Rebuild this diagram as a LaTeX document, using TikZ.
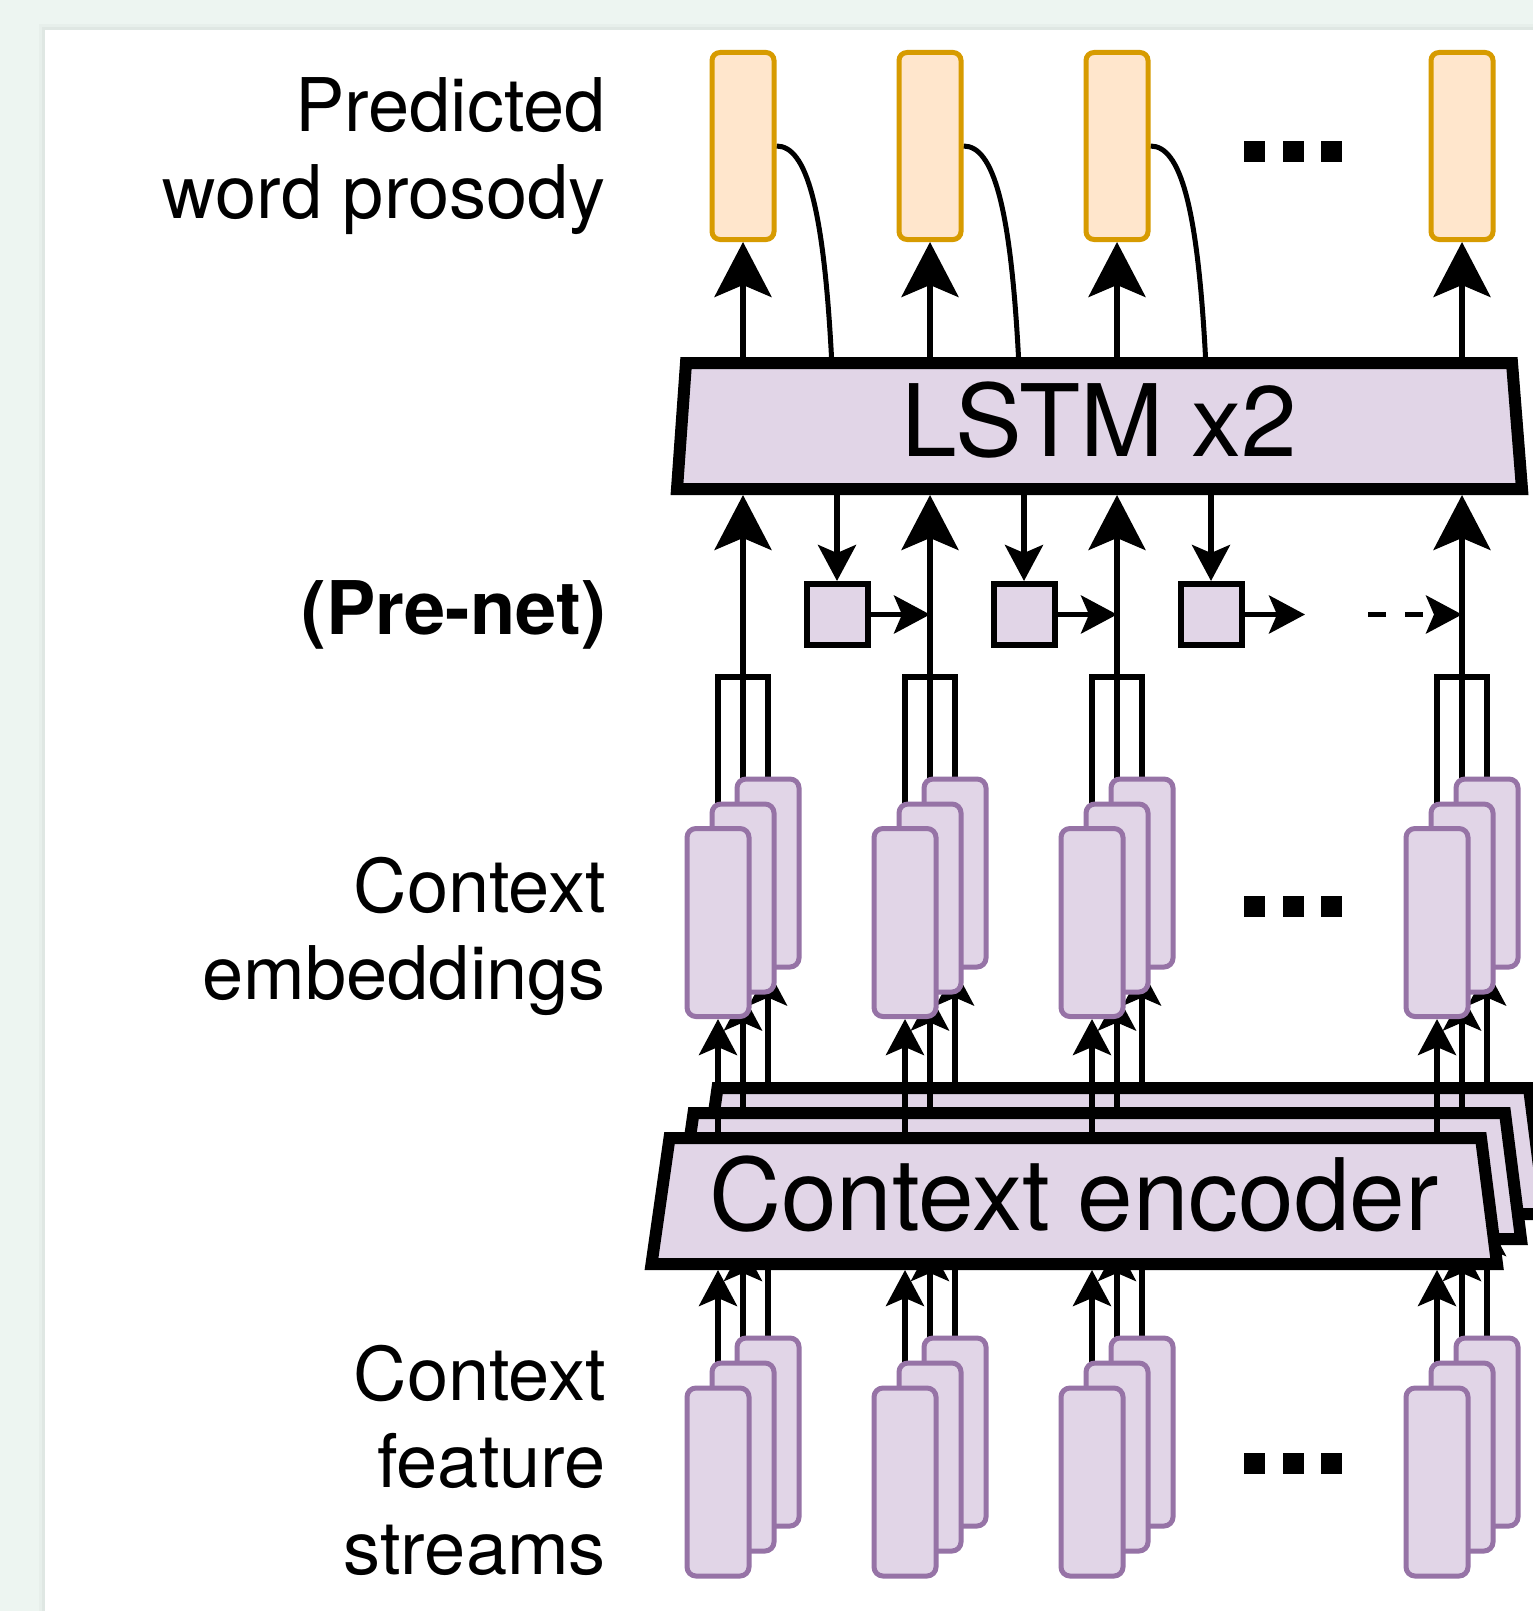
\documentclass[tikz,border=0pt]{standalone}
\usepackage{fontspec}
\setmainfont{TeX Gyre Heros}
\usetikzlibrary{arrows.meta,calc}
\definecolor{bgmint}{RGB}{237,245,241}
\definecolor{purfill}{HTML}{E1D5E7}
\definecolor{purline}{HTML}{9673A6}
\definecolor{orfill}{HTML}{FFE6CC}
\definecolor{orline}{HTML}{D79B00}
\pgfdeclarelayer{bglayer}
\pgfdeclarelayer{connlayer}
\pgfsetlayers{bglayer,connlayer,main}
\tikzset{
  outbox/.style={draw=orline, fill=orfill, line width=5pt, rounded corners=8pt, minimum width=62pt, minimum height=187pt, inner sep=0pt},
  vecbox/.style={draw=purline, fill=purfill, line width=5pt, rounded corners=9pt, minimum width=62pt, minimum height=188pt, inner sep=0pt},
  prebox/.style={draw=black, fill=purfill, line width=6pt, minimum width=61pt, minimum height=61pt, inner sep=0pt},
  trapline/.style={draw=black, fill=purfill, line width=12pt, line join=miter},
  layertext/.style={minimum width=830pt, minimum height=138pt, inner sep=0pt, outer sep=0pt, font=\fontsize{100}{110}\selectfont},
  dotbox/.style={fill=black, minimum size=21pt, inner sep=0pt},
  bigarrow/.style={line width=5.5pt, -{Stealth[length=55pt,width=57pt,inset=12pt]}},
  medarrow/.style={line width=5.5pt, -{Stealth[length=36pt,width=38pt,inset=8pt]}},
  plainline/.style={line width=5.5pt},
  sidelabel/.style={font=\fontsize{74}{87}\selectfont, align=right, anchor=base east, inner sep=0pt},
}
\begin{document}
\begin{tikzpicture}[x=1pt,y=-1pt]
\useasboundingbox (0,0) rectangle (1533,1611);
\begin{pgfonlayer}{bglayer}
  \fill[bgmint] (0,0) rectangle (1533,1611);
  \fill[black,opacity=0.025] (39,24) rectangle (1533,1611);
  \fill[black,opacity=0.03] (42,27) rectangle (1533,1611);
  \fill[white] (45,30) rectangle (1533,1611);
  % LSTM block
  \draw[trapline] (686,363) -- (1512,363) -- (1522,489) -- (677,489) -- cycle;
  \node[layertext, text height=72pt, text depth=12pt] (lstm) at (1099.5,426) {LSTM x2};
  % stacked context encoders (back layers)
  \foreach \n/\dx/\dy in {3/48/-50,2/24/-25}{
    \draw[trapline, shift={(\dx,\dy)}] (669.5,1138) -- (1481,1138) -- (1497,1264) -- (651.5,1264) -- cycle;
    \node[layertext] (enc\n) at (1074+\dx,1201+\dy) {};
  }
\end{pgfonlayer}

% front context encoder
\draw[trapline] (669.5,1138) -- (1481,1138) -- (1497,1264) -- (651.5,1264) -- cycle;
\node[layertext, text height=72pt, text depth=14pt] (enc1) at (1074,1201) {Context encoder};

% output, embedding and feature boxes
\foreach \i/\c in {1/743,2/930,3/1117,4/1462}{
  \node[outbox] (o\i) at (\c,146) {};
  \node[vecbox] (eb\i) at (\c+25,873) {};
  \node[vecbox] (em\i) at (\c,898) {};
  \node[vecbox] (ef\i) at (\c-25,922.5) {};
  \node[vecbox] (fb\i) at (\c+25,1432) {};
  \node[vecbox] (fm\i) at (\c,1457) {};
  \node[vecbox] (ff\i) at (\c-25,1482) {};
  \coordinate (k\i) at (\c,677);
}
% pre-net boxes
\foreach \i/\c in {1/837,2/1024,3/1211}{
  \node[prebox] (p\i) at (\c,614.5) {};
}
\coordinate (pend) at (1305,614.5);
\coordinate (dstart) at (1368,614.5);

% ellipsis dots
\foreach \r/\y in {a/151.5,b/906,c/1463}{
  \node[dotbox] (dot\r1) at (1254.5,\y) {};
  \node[dotbox] (dot\r2) at (1293,\y) {};
  \node[dotbox] (dot\r3) at (1331.5,\y) {};
}

% side labels (anchored at the baseline of the last line)
\node[sidelabel] (lblout) at (606,218) {Predicted\\word prosody};
\node[sidelabel, font=\fontsize{74}{87}\selectfont\bfseries] (lblpre) at (606,634) {(Pre-net)};
\node[sidelabel] (lblemb) at (606,999) {Context\\embeddings};
\node[sidelabel] (lblfeat) at (606,1574) {Context\\feature\\streams};

\begin{pgfonlayer}{connlayer}
\foreach \i in {1,2,3,4}{
  \draw[bigarrow] (o\i.south |- lstm.north) -- (o\i.south);
  \draw[bigarrow] (em\i.north) -- (em\i.north |- lstm.south);
  \draw[plainline] (ef\i.north) |- (k\i) -| (eb\i.north);
  \draw[medarrow] (ef\i.south |- enc1.north) -- (ef\i.south);
  \draw[medarrow] (em\i.south |- enc2.north) -- (em\i.south);
  \draw[medarrow] (eb\i.south |- enc3.north) -- (eb\i.south);
  \draw[medarrow] (ff\i.north) -- (ff\i.north |- enc1.south);
  \draw[medarrow] (fm\i.north) -- (fm\i.north |- enc2.south);
  \draw[medarrow] (fb\i.north) -- (fb\i.north |- enc3.south);
}
\foreach \i in {1,2,3}{
  \draw[plainline, line width=5pt] (o\i.east) .. controls +(30,0) and +(-8,-150) .. ($(o\i.east |- lstm.north)+(55,0)$);
  \draw[medarrow] (p\i.north |- lstm.south) -- (p\i.north);
}
\draw[medarrow] (p1.east) -- (p1.east -| em2.center);
\draw[medarrow] (p2.east) -- (p2.east -| em3.center);
\draw[medarrow] (p3.east) -- (pend);
\draw[medarrow, dash pattern=on 18pt off 19pt] (dstart) -- (dstart -| em4.center);
\end{pgfonlayer}
\end{tikzpicture}
\end{document}
